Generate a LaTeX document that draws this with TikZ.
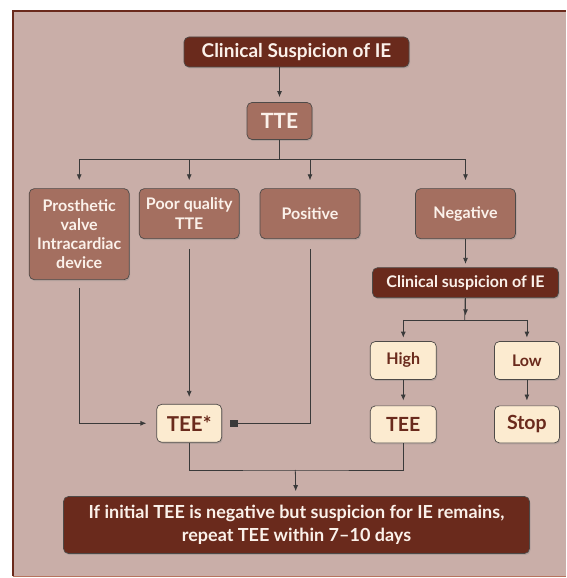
\documentclass[tikz,border=0pt]{standalone}
\usepackage{fontspec}
\setmainfont{Lato}
\usetikzlibrary{shapes,arrows.meta,positioning,shadows}

\definecolor{panelbg}{HTML}{C9AEA8}
\definecolor{darkred}{HTML}{6A2A1C}
\definecolor{midbrown}{HTML}{A46F60}
\definecolor{cream}{HTML}{FCEBD0}
\definecolor{edgegray}{HTML}{4E4A48}
\definecolor{linegray}{HTML}{3A3A3A}
\definecolor{paletext}{HTML}{FBF1EA}
\definecolor{bottomline}{HTML}{B7745E}

\begin{document}
\begin{tikzpicture}[x=1pt, y=1pt, align=center, node distance=25.7pt and 57.4pt]
    \tikzset{
        box/.style      =   { rectangle
                            , rounded corners=5pt
                            , text centered
                            , draw=edgegray
                            , line width=0.7pt
                            , inner sep=2pt
                            , font=\bfseries
                            , drop shadow={shadow xshift=1pt, shadow yshift=-1.5pt, opacity=0.3}
        }
        , darkbox/.style =  { box
                            , fill=darkred
                            , text=paletext
        }
        , midbox/.style =   { box
                            , fill=midbrown
                            , text=paletext
                            , font=\bfseries\fontsize{16}{19.3}\selectfont
                            , minimum width=100pt
                            , minimum height=50pt
        }
        , palebox/.style =  { box
                            , fill=cream
                            , text=darkred
                            , font=\bfseries\fontsize{19.5}{22}\selectfont
                            , minimum width=65pt
                            , minimum height=37pt
        }
        , line/.style   =   { line width=0.8pt
                            , draw=linegray
        }
        , arrow/.style  =   { line
                            , -{Latex[length=6pt, width=5pt]}
        }
    }
    \useasboundingbox (0,0) rectangle (566,578);
    \fill[white] (0,0) rectangle (566,578);
    \fill[panelbg] (13,1.5) rectangle (566,567);
    \draw[darkred, line width=2pt] (13,1.5) -- (13,567) -- (566,567);
    \draw[bottomline, line width=1.2pt] (13,1.5) -- (566,1.5);

    % top of the chart
    \node(clin)[darkbox, minimum width=225pt, minimum height=30pt,
                font=\bfseries\fontsize{19}{22}\selectfont] at (296.5,526) {Clinical Suspicion of IE};
    \node(tte)[midbox, minimum width=65pt, minimum height=37pt,
               font=\bfseries\fontsize{21}{24}\selectfont] at (279.5,457) {TTE};

    % result of TTE
    \node(pros)[midbox, minimum height=91pt, anchor=north] at (79.2,389.7) {Prosthetic\\valve\\Intracardiac\\device};
    \node(poor)[midbox, anchor=north] at (189.2,389.7) {Poor quality\\TTE};
    \node(posi)[midbox, anchor=north] at (310,389.7) {Positive};
    \node(nega)[midbox, anchor=north] at (465.5,389.7) {Negative};

    % negative branch
    \node(clin2)[darkbox, minimum width=186pt, minimum height=30pt,
                 font=\bfseries\fontsize{16}{19}\selectfont, below=28.4pt of nega] {Clinical suspicion of IE};
    \node(high)[palebox, minimum width=66pt, minimum height=38pt,
                font=\bfseries\fontsize{16}{19}\selectfont] at (403.3,217.5) {High};
    \node(low)[palebox, minimum height=38pt,
               font=\bfseries\fontsize{16}{19}\selectfont, right=of high] {Low};
    \node(tee2)[palebox, minimum width=66pt, below=of high] {TEE};
    \node(stop)[palebox, below=of low] {Stop};
    \node(tees)[palebox, minimum height=38pt,
                font=\bfseries\fontsize{20.5}{23}\selectfont] at (189.2,154.7) {TEE*};

    \node(final)[darkbox, minimum width=466pt, minimum height=57pt,
                 font=\bfseries\fontsize{18}{23.3}\selectfont] at (296.5,53)
        {If initial TEE is negative but suspicion for IE remains,\\repeat TEE within 7--10 days};

    \coordinate(split) at (279.5,418.7);
    \coordinate(split2) at (464.7,258);
    \coordinate(merge) at (295.3,108);

    \draw[arrow, shorten >=5pt] (clin.south -| tte) -- (tte);
    \draw[line] (tte) -- (split);
    \draw[line] (split -| pros) -- (split -| nega);
    \foreach \n in {pros,poor,posi,nega}
        \draw[arrow, shorten >=8pt] (split -| \n) -- (\n.north);

    \draw[arrow, shorten <=8pt, shorten >=10pt] (pros.south) |- (tees.west);
    \draw[arrow, shorten <=10pt, shorten >=7pt] (poor.south) -- (tees.north);
    \draw[line, -{Square[length=7pt, width=7pt]}, shorten <=10pt, shorten >=8.3pt] (posi.south) |- (tees.east);

    \draw[arrow, shorten >=3.5pt] (nega) -- (clin2);
    \draw[line] (clin2) -- (split2);
    \draw[arrow] (clin2.south) -- ++(0,-17.3);
    \draw[line] (split2 -| high) -- (split2 -| low);
    \draw[arrow, shorten >=3.5pt] (split2 -| high) -- (high);
    \draw[arrow, shorten >=3.5pt] (split2 -| low) -- (low);
    \draw[arrow, shorten >=5pt] (high) -- (tee2);
    \draw[arrow, shorten >=5pt] (low) -- (stop);

    \draw[line] (tees.south) |- (merge) -| (tee2.south);
    \draw[arrow, shorten >=5pt] (merge) -- (final);
\end{tikzpicture}
\end{document}
